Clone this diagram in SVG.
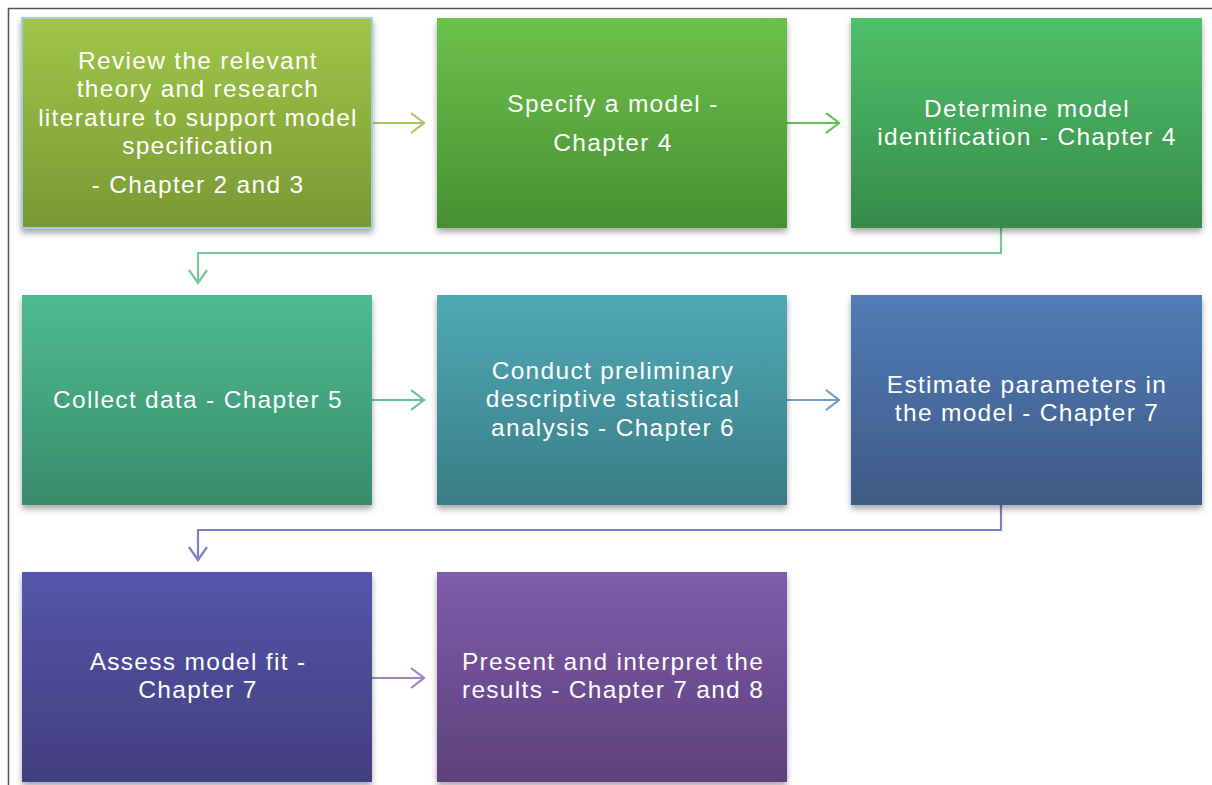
<svg xmlns="http://www.w3.org/2000/svg" width="1212" height="785" viewBox="0 0 1212 785">
  <style>
    .lbl { font-family: "Liberation Sans", Arial, sans-serif; font-size: 24.5px; letter-spacing: 1.3px; fill: #ffffff; text-anchor: middle; }
    .box { filter: url(#shadow); }
    .conn { fill: none; stroke-width: 2.2; }
  </style>
  <defs>
    <filter id="shadow" x="-10%" y="-10%" width="120%" height="125%">
      <feDropShadow dx="0" dy="4" stdDeviation="3" flood-color="#000" flood-opacity="0.35"/>
    </filter>
    <linearGradient id="g1" x1="0" y1="0" x2="0" y2="1"><stop offset="0" stop-color="#a0c648"/><stop offset="1" stop-color="#789833"/></linearGradient>
    <linearGradient id="g2" x1="0" y1="0" x2="0" y2="1"><stop offset="0" stop-color="#6cc24a"/><stop offset="1" stop-color="#498f33"/></linearGradient>
    <linearGradient id="g3" x1="0" y1="0" x2="0" y2="1"><stop offset="0" stop-color="#4fc069"/><stop offset="1" stop-color="#368b49"/></linearGradient>
    <linearGradient id="g4" x1="0" y1="0" x2="0" y2="1"><stop offset="0" stop-color="#4dbc91"/><stop offset="1" stop-color="#398b6c"/></linearGradient>
    <linearGradient id="g5" x1="0" y1="0" x2="0" y2="1"><stop offset="0" stop-color="#4faab6"/><stop offset="1" stop-color="#397c86"/></linearGradient>
    <linearGradient id="g6" x1="0" y1="0" x2="0" y2="1"><stop offset="0" stop-color="#517cb6"/><stop offset="1" stop-color="#3e5a86"/></linearGradient>
    <linearGradient id="g7" x1="0" y1="0" x2="0" y2="1"><stop offset="0" stop-color="#5456a9"/><stop offset="1" stop-color="#423e7e"/></linearGradient>
    <linearGradient id="g8" x1="0" y1="0" x2="0" y2="1"><stop offset="0" stop-color="#7e5caa"/><stop offset="1" stop-color="#5d417b"/></linearGradient>
  </defs>

  <rect width="1212" height="785" fill="#ffffff"/>
  <!-- outer frame -->
  <path d="M8.5 785 V8.5 H1212" fill="none" stroke="#555555" stroke-width="1.5"/>

  <!-- connectors -->
  <g id="connectors">
    <path class="conn" stroke="#a3c865" d="M372 123 H424 M411 113 L424 123 L411 133"/>
    <path class="conn" stroke="#62bd55" d="M787 123 H839 M826 113 L839 123 L826 133"/>
    <path class="conn" stroke="#74c895" d="M1001 228 V253 H198 V283 M189 270 L198 283 L207 270"/>
    <path class="conn" stroke="#66bba9" d="M372 400 H424 M411 390 L424 400 L411 410"/>
    <path class="conn" stroke="#6f9cc4" d="M787 400 H839 M826 390 L839 400 L826 410"/>
    <path class="conn" stroke="#7c80c4" d="M1001 505 V530 H198 V560 M189 547 L198 560 L207 547"/>
    <path class="conn" stroke="#9d82c4" d="M372 678 H424 M411 668 L424 678 L411 688"/>
  </g>

  <g id="node1">
    <rect class="box" x="22" y="18" width="350" height="210" fill="url(#g1)" stroke="#a9cde0" stroke-width="2"/>
    <text class="lbl" x="198" y="69">Review the relevant</text>
    <text class="lbl" x="198" y="97">theory and research</text>
    <text class="lbl" x="198" y="126">literature to support model</text>
    <text class="lbl" x="198" y="154">specification</text>
    <text class="lbl" x="198" y="193">- Chapter 2 and 3</text>
  </g>
  <g id="node2">
    <rect class="box" x="437" y="18" width="350" height="210" fill="url(#g2)"/>
    <text class="lbl" x="613" y="112">Specify a model -</text>
    <text class="lbl" x="613" y="151">Chapter 4</text>
  </g>
  <g id="node3">
    <rect class="box" x="851" y="18" width="351" height="210" fill="url(#g3)"/>
    <text class="lbl" x="1027" y="117">Determine model</text>
    <text class="lbl" x="1027" y="145">identification - Chapter 4</text>
  </g>
  <g id="node4">
    <rect class="box" x="22" y="295" width="350" height="210" fill="url(#g4)"/>
    <text class="lbl" x="198" y="408">Collect data - Chapter 5</text>
  </g>
  <g id="node5">
    <rect class="box" x="437" y="295" width="350" height="210" fill="url(#g5)"/>
    <text class="lbl" x="613" y="379">Conduct preliminary</text>
    <text class="lbl" x="613" y="407">descriptive statistical</text>
    <text class="lbl" x="613" y="436">analysis - Chapter 6</text>
  </g>
  <g id="node6">
    <rect class="box" x="851" y="295" width="351" height="210" fill="url(#g6)"/>
    <text class="lbl" x="1027" y="393">Estimate parameters in</text>
    <text class="lbl" x="1027" y="421">the model - Chapter 7</text>
  </g>
  <g id="node7">
    <rect class="box" x="22" y="572" width="350" height="210" fill="url(#g7)"/>
    <text class="lbl" x="198" y="670">Assess model fit -</text>
    <text class="lbl" x="198" y="698">Chapter 7</text>
  </g>
  <g id="node8">
    <rect class="box" x="437" y="572" width="350" height="210" fill="url(#g8)"/>
    <text class="lbl" x="613" y="670">Present and interpret the</text>
    <text class="lbl" x="613" y="698">results - Chapter 7 and 8</text>
  </g>
</svg>
